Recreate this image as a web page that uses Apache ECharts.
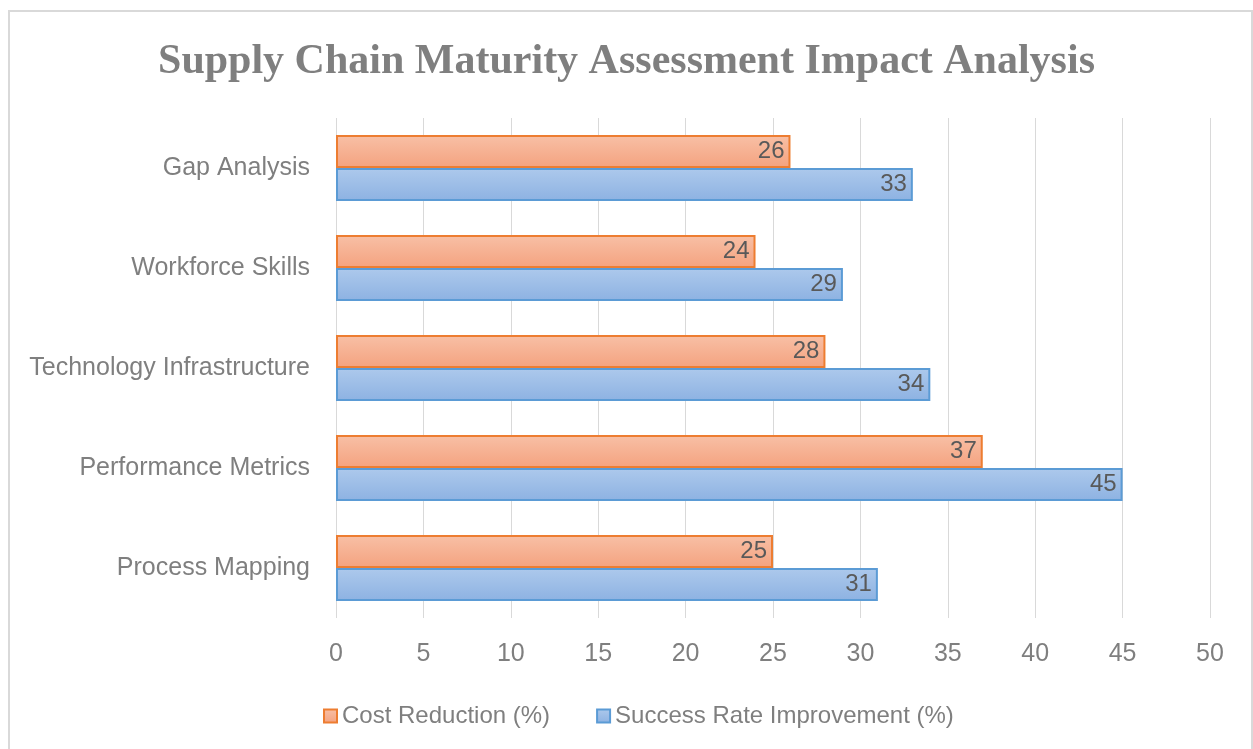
<!DOCTYPE html>
<html>
<head>
<meta charset="utf-8">
<script src="https://cdn.jsdelivr.net/npm/echarts@6/dist/echarts.min.js"></script>
<style>
  html, body { margin: 0; padding: 0; background: #fff; }
  #main { width: 1253px; height: 749px; }
</style>
</head>
<body>
<div id="main"></div>
<script>
var categories = ['Gap Analysis', 'Workforce Skills', 'Technology Infrastructure', 'Performance Metrics', 'Process Mapping'];
var costReduction = [26, 24, 28, 37, 25];
var successRate = [33, 29, 34, 45, 31];
var xTicks = { min: 0, max: 50, interval: 5 };

var myChart = echarts.init(document.getElementById('main'));

// gradient fills like the office style
function grad(top, bottom) {
	return new echarts.graphic.LinearGradient(0, 0, 0, 1, [
		{ offset: 0, color: top },
		{ offset: 1, color: bottom }
	]);
}

var labelStyle = {
	show: true,
	position: 'insideRight',
	distance: 6,
	color: '#595959',
	fontSize: 24,
	fontFamily: 'Liberation Sans'
};

var option = {
	animation: false,
	title: {
		text: 'Supply Chain Maturity Assessment Impact Analysis',
		left: 'center',
		top: 36,
		textStyle: {
			fontFamily: 'Liberation Serif',
			fontWeight: 'bold',
			fontSize: 42,
			color: '#7f7f7f'
		}
	},
	graphic: [{
		type: 'rect',
		shape: { x: 9, y: 11, width: 1243, height: 760 },
		style: { fill: 'none', stroke: '#d9d9d9', lineWidth: 2 },
		silent: true
	}],
	legend: {
		data: ['Cost Reduction (%)', 'Success Rate Improvement (%)'],
		top: 699,
		left: 318,
		icon: 'rect',
		itemWidth: 13,
		itemHeight: 13,
		itemGap: 46,
		textStyle: { fontSize: 24, color: '#7f7f7f', fontFamily: 'Liberation Sans' }
	},
	grid: { left: 336, right: 43, top: 118, bottom: 131 },
	xAxis: {
		type: 'value',
		min: xTicks.min,
		max: xTicks.max,
		interval: xTicks.interval,
		axisLine: { show: false },
		axisTick: { show: false },
		splitLine: { lineStyle: { color: '#d9d9d9', width: 1 } },
		axisLabel: { fontSize: 25, color: '#7f7f7f', margin: 24, fontFamily: 'Liberation Sans' }
	},
	yAxis: {
		type: 'category',
		data: categories,
		inverse: true,
		axisLine: { show: false },
		axisTick: { show: false },
		axisLabel: { fontSize: 25, color: '#7f7f7f', margin: 26, fontFamily: 'Liberation Sans' }
	},
	series: [{
		name: 'Cost Reduction (%)',
		type: 'bar',
		data: costReduction,
		barWidth: 33,
		barGap: '0%',
		itemStyle: { color: grad('#f8c0a6', '#f4a27f'), borderColor: '#ed7d31', borderWidth: 2 },
		label: labelStyle
	}, {
		name: 'Success Rate Improvement (%)',
		type: 'bar',
		data: successRate,
		barWidth: 33,
		barGap: '0%',
		itemStyle: { color: grad('#adc9ec', '#8db2e2'), borderColor: '#5b9bd5', borderWidth: 2 },
		label: labelStyle
	}]
};

myChart.setOption(option);
</script>
</body>
</html>
